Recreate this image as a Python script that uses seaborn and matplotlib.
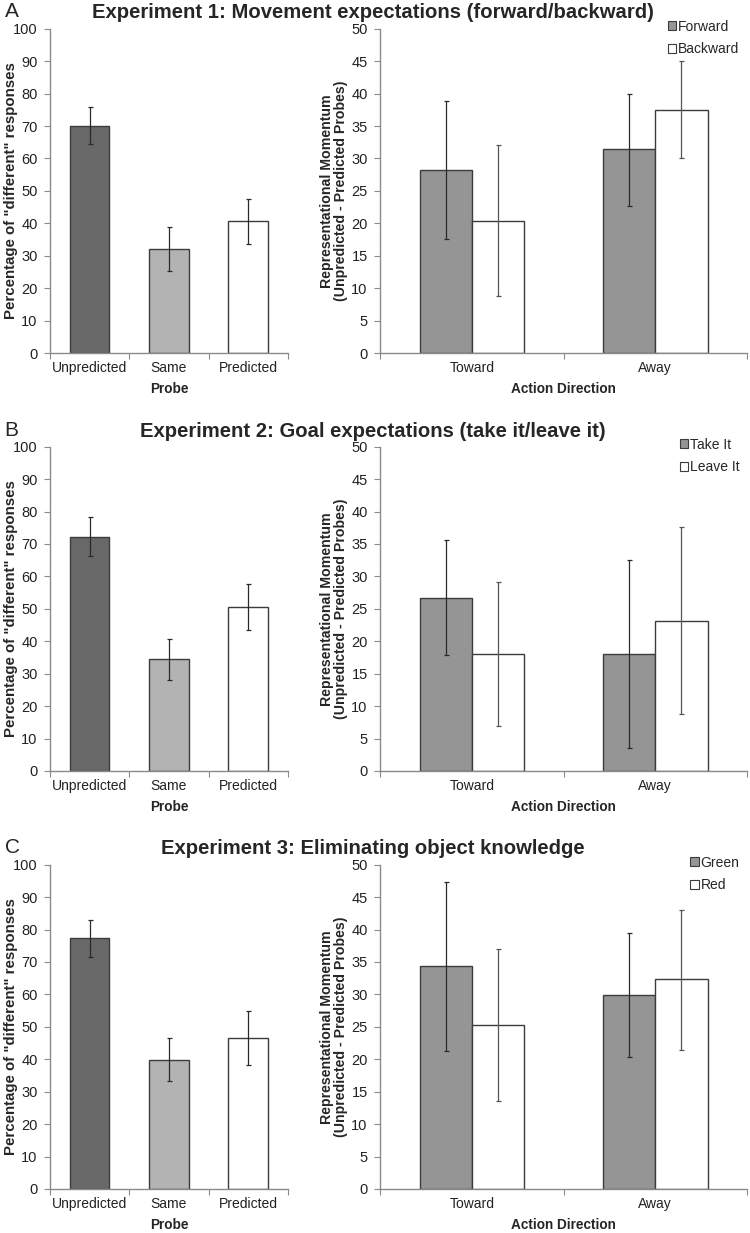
import numpy as np
import pandas as pd
import seaborn as sns
import matplotlib.pyplot as plt
from matplotlib.patches import Patch

# ---- data ----
probes = ["Unpredicted", "Same", "Predicted"]
directions = ["Toward", "Away"]

# left panels: percentage of "different" responses (mean, lower, upper)
exp1_pct = [70.0, 32.2, 40.6]
exp1_pct_lo = [64.5, 25.3, 33.7]
exp1_pct_hi = [75.8, 38.9, 47.6]

exp2_pct = [72.2, 34.5, 50.6]
exp2_pct_lo = [66.3, 28.2, 43.4]
exp2_pct_hi = [78.2, 40.6, 57.8]

exp3_pct = [77.3, 39.9, 46.6]
exp3_pct_lo = [71.6, 33.3, 38.3]
exp3_pct_hi = [82.9, 46.5, 55.0]

# right panels: representational momentum, values per condition [Toward, Away]
exp1_conds = ["Forward", "Backward"]
exp1_rm = {"Forward": [28.2, 31.4], "Backward": [20.4, 37.5]}
exp1_rm_lo = {"Forward": [17.6, 22.7], "Backward": [8.8, 30.0]}
exp1_rm_hi = {"Forward": [38.8, 40.0], "Backward": [32.0, 45.0]}

exp2_conds = ["Take It", "Leave It"]
exp2_rm = {"Take It": [26.7, 18.1], "Leave It": [18.1, 23.2]}
exp2_rm_lo = {"Take It": [17.9, 3.6], "Leave It": [7.0, 8.8]}
exp2_rm_hi = {"Take It": [35.6, 32.6], "Leave It": [29.2, 37.6]}

exp3_conds = ["Green", "Red"]
exp3_rm = {"Green": [34.4, 29.9], "Red": [25.3, 32.3]}
exp3_rm_lo = {"Green": [21.3, 20.4], "Red": [13.6, 21.5]}
exp3_rm_hi = {"Green": [47.4, 39.4], "Red": [37.0, 43.0]}

titles = ["Experiment 1: Movement expectations (forward/backward)",
          "Experiment 2: Goal expectations (take it/leave it)",
          "Experiment 3: Eliminating object knowledge"]
letters = ["A", "B", "C"]

sns.set_style("ticks")
plt.rcParams['font.family'] = ['Liberation Sans', 'DejaVu Sans']

probe_colors = ["#686868", "#b3b3b3", "#ffffff"]
cond_colors = ["#959595", "#ffffff"]
edge = "#3c3c3c"
spine_col = "#8a8a8a"

fig = plt.figure(figsize=(7.5, 12.33), dpi=100)

bottoms = [0.7137, 0.3747, 0.0357]
h = 0.263
title_y = [0.9895, 0.650, 0.312]

left_sets = [(exp1_pct, exp1_pct_lo, exp1_pct_hi),
             (exp2_pct, exp2_pct_lo, exp2_pct_hi),
             (exp3_pct, exp3_pct_lo, exp3_pct_hi)]
right_sets = [(exp1_conds, exp1_rm, exp1_rm_lo, exp1_rm_hi),
              (exp2_conds, exp2_rm, exp2_rm_lo, exp2_rm_hi),
              (exp3_conds, exp3_rm, exp3_rm_lo, exp3_rm_hi)]


def style_axis(ax, ncat):
    for s in ["top", "right"]:
        ax.spines[s].set_visible(False)
    for s in ["left", "bottom"]:
        ax.spines[s].set_color(spine_col)
        ax.spines[s].set_linewidth(1.0)
    ax.set_xlim(-0.5, ncat - 0.5)
    # excel-style ticks between categories, labels at the centre
    ax.set_xticks(np.arange(-0.5, ncat, 1.0))
    ax.set_xticklabels([])
    ax.set_xticks(np.arange(ncat), minor=True)
    ax.tick_params(axis="x", which="major", length=4, color=spine_col, direction="out")
    ax.tick_params(axis="x", which="minor", length=0, labelsize=10, colors="#222222", pad=6)
    ax.tick_params(axis="y", length=4, color=spine_col, labelsize=10.5,
                   labelcolor="#222222", pad=5)


for i in range(3):
    # ---- left panel ----
    vals, lo, hi = left_sets[i]
    axl = fig.add_axes([0.0667, bottoms[i], 0.317, h])
    df = pd.DataFrame({"Probe": probes, "pct": vals})
    sns.barplot(data=df, x="Probe", y="pct", hue="Probe", palette=probe_colors,
                order=probes, hue_order=probes, width=0.5, errorbar=None,
                edgecolor=edge, linewidth=1.0, legend=False, ax=axl)
    for bar in list(axl.patches):
        xc = bar.get_x() + bar.get_width() / 2
        j = int(round(xc))
        axl.errorbar(xc, vals[j], yerr=[[vals[j] - lo[j]], [hi[j] - vals[j]]],
                     fmt="none", ecolor="#2a2a2a", elinewidth=0.9, capsize=1.8, capthick=0.9)
    style_axis(axl, 3)
    axl.set_xticklabels(probes, minor=True)
    axl.set_ylim(0, 100)
    axl.set_yticks(np.arange(0, 101, 10))
    axl.set_xlabel("Probe", fontsize=9.8, fontweight="bold", labelpad=5)
    axl.set_ylabel("Percentage of \"different\" responses", fontsize=10.8,
                   fontweight="bold")
    axl.yaxis.set_label_coords(-0.135, 0.5)

    # ---- right panel ----
    conds, rm, rlo, rhi = right_sets[i]
    axr = fig.add_axes([0.507, bottoms[i], 0.489, h])
    rows = []
    for c in conds:
        for d, v in zip(directions, rm[c]):
            rows.append({"Direction": d, "Condition": c, "rm": v})
    dfr = pd.DataFrame(rows)
    sns.barplot(data=dfr, x="Direction", y="rm", hue="Condition", order=directions,
                hue_order=conds, palette=cond_colors, width=0.57, gap=0,
                errorbar=None, edgecolor=edge, linewidth=1.0, legend=False, ax=axr)
    bar_conts = list(axr.containers)
    for k, cont in enumerate(bar_conts):
        c = conds[k]
        for bar in cont:
            if bar is None:
                continue
            xc = bar.get_x() + bar.get_width() / 2
            j = int(round(xc))
            v = rm[c][j]
            axr.errorbar(xc, v, yerr=[[v - rlo[c][j]], [rhi[c][j] - v]],
                         fmt="none", ecolor="#2a2a2a" if k == 0 else "#555555",
                         elinewidth=0.9, capsize=1.8, capthick=0.9)
    style_axis(axr, 2)
    axr.set_xticklabels(directions, minor=True)
    axr.set_ylim(0, 50)
    axr.set_yticks(np.arange(0, 51, 5))
    axr.tick_params(axis="y", pad=5)
    axr.set_xlabel("Action Direction", fontsize=9.8, fontweight="bold", labelpad=5)
    axr.set_ylabel("Representational Momentum\n(Unpredicted - Predicted Probes)",
                   fontsize=10.2, fontweight="bold", linespacing=1.0)
    axr.yaxis.set_label_coords(-0.088, 0.5)
    handles = [Patch(facecolor=cond_colors[n], edgecolor=edge, linewidth=0.8, label=conds[n])
               for n in range(2)]
    axr.legend(handles=handles, loc="upper right", bbox_to_anchor=(0.995, 1.045),
               frameon=False, fontsize=10, handlelength=0.6, handleheight=0.6,
               handletextpad=0.15, labelspacing=0.6, borderaxespad=0)

    fig.text(0.497, title_y[i], titles[i], ha="center", va="center",
             fontsize=14.6, fontweight="bold")
    fig.text(0.006, title_y[i] + 0.001, letters[i], ha="left", va="center", fontsize=15)

fig.savefig("out.png", dpi=100)
